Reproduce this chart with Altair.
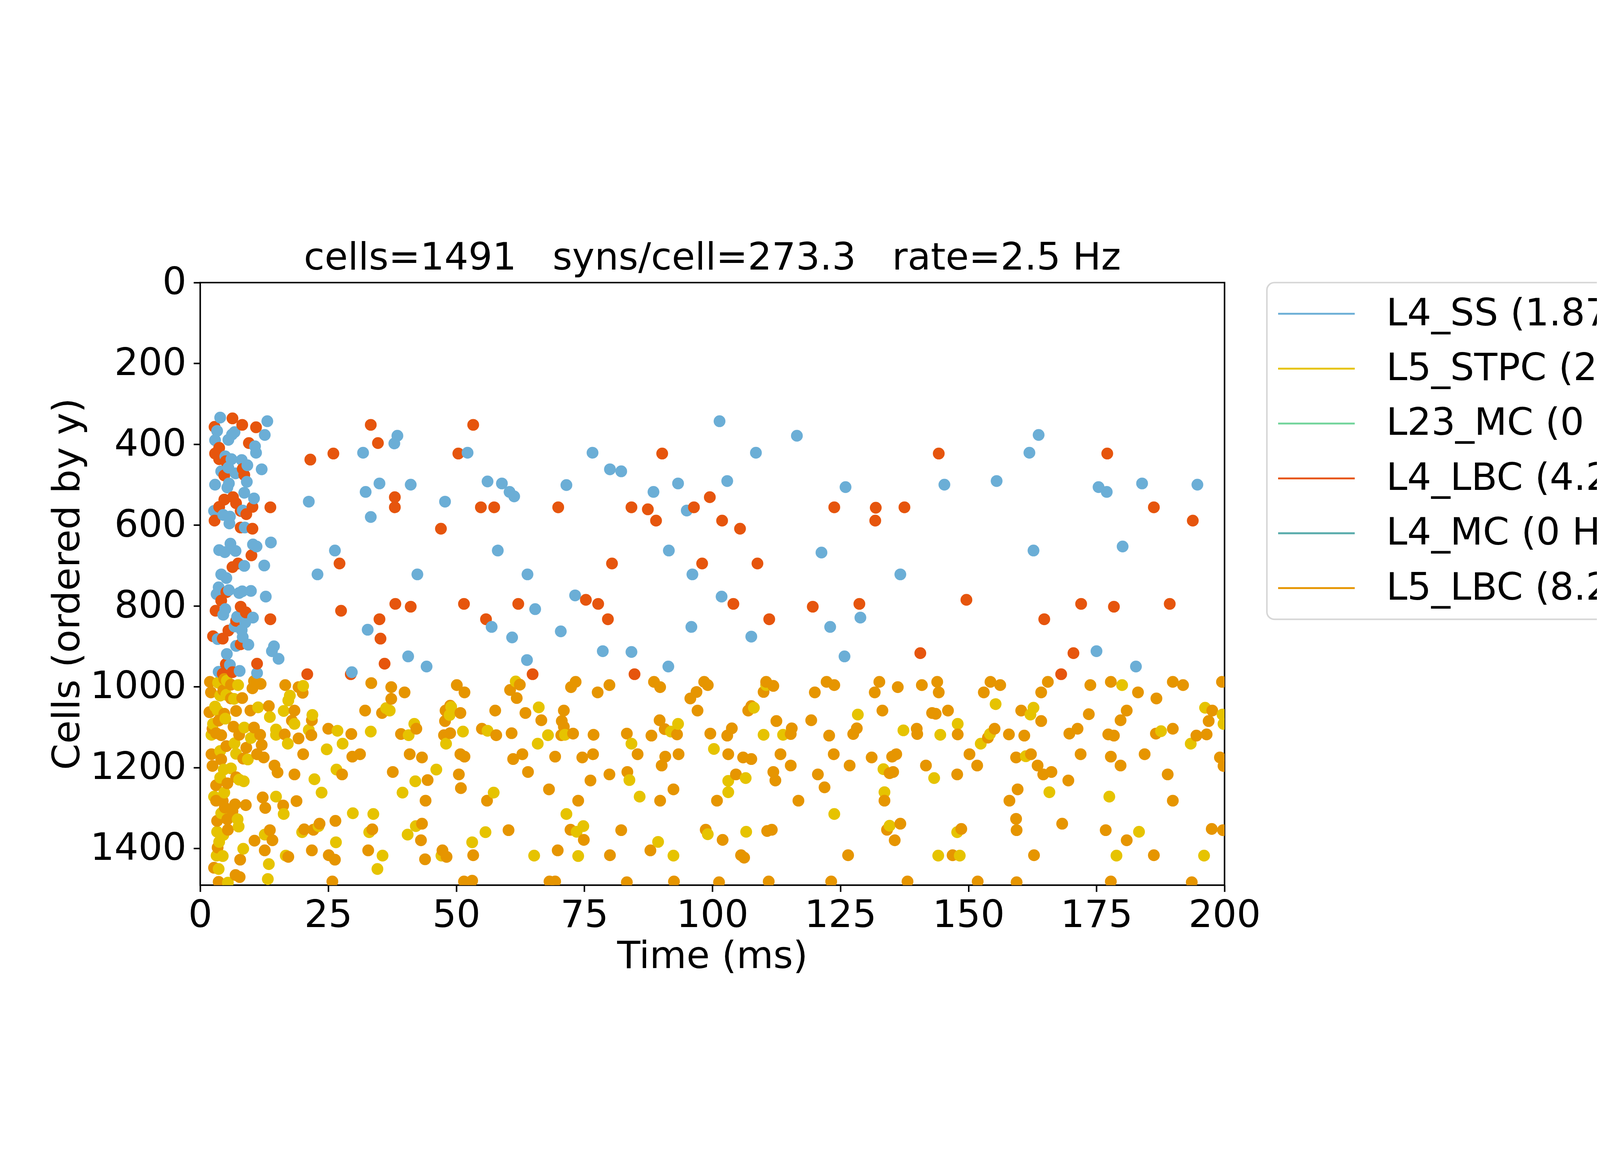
import pandas as pd
import altair as alt

# Legend entries (text as far as it is visible, the figure cuts it off)
populations = ["L4_SS (1.87", "L5_STPC (2.", "L23_MC (0 H",
               "L4_LBC (4.2", "L4_MC (0 Hz", "L5_LBC (8.2"]
colors = ["#6baed6", "#e6c300", "#72d49b", "#e6550d", "#58abab", "#e69500"]

n_cells = 1491
x_ticks = [0, 25, 50, 75, 100, 125, 150, 175, 200]
y_ticks = [0, 200, 400, 600, 800, 1000, 1200, 1400]
title_text = "cells=1491\u00a0\u00a0\u00a0syns/cell=273.3\u00a0\u00a0\u00a0rate=2.5 Hz"

# Spike times (ms) and cell index, per population
l4_ss_time = [3.9, 3.3, 6.7, 13.1, 12.6, 2.9, 5.5, 6.2, 10.7, 10.9, 4.9, 6.1, 8.1, 9.2, 12.0,
              4.1, 5.5, 6.9, 2.9, 5.6, 9.1, 8.6, 5.3, 10.5, 2.7, 4.5, 5.8, 8.3, 5.7, 8.7,
              3.7, 4.8, 5.9, 6.9, 10.3, 11.0, 13.8, 8.6, 12.5, 4.1, 5.1, 3.6, 5.6, 3.2, 7.6,
              8.2, 9.9, 12.8, 4.9, 4.5, 7.2, 10.3, 8.8, 6.7, 8.1, 3.4, 8.3, 9.4, 7.0, 14.4,
              14.0, 15.3, 5.2, 3.6, 5.8, 7.7, 11.1,
              29.6, 32.7, 40.6, 44.2, 22.9, 26.3, 42.4, 58.1, 63.9, 65.4, 56.9, 60.9, 63.8,
              21.2, 31.8, 32.3, 33.3, 35.0, 37.9, 38.5, 41.1, 47.8, 52.2, 56.1, 58.9, 60.4, 61.3,
              91.5, 96.1, 121.3, 73.2, 101.8, 70.4, 95.9, 107.6, 123.0, 128.9, 78.6, 84.2, 91.4,
              125.8, 101.4, 116.5, 76.6, 108.5, 80.0, 82.2, 71.5, 93.3, 102.9, 88.5, 126.0, 95.0,
              162.7, 180.1, 136.7, 175.0, 182.7, 163.7, 161.9, 145.3, 155.5, 175.4, 177.0, 183.9,
              194.7]
l4_ss_cell = [334, 367, 370, 343, 377, 390, 389, 376, 405, 421, 430, 437, 439, 452, 462,
              467, 458, 472, 500, 497, 493, 520, 507, 534, 565, 575, 579, 564, 596, 606,
              662, 667, 646, 664, 648, 653, 643, 701, 700, 722, 731, 754, 761, 771, 768,
              764, 763, 777, 808, 822, 827, 829, 841, 851, 860, 882, 877, 896, 899, 900,
              912, 931, 919, 963, 946, 961, 966,
              964, 859, 925, 950, 722, 663, 722, 663, 722, 808, 852, 878, 934,
              542, 421, 518, 580, 497, 398, 379, 500, 542, 421, 492, 497, 518, 529,
              663, 722, 668, 774, 777, 863, 852, 876, 852, 829, 912, 914, 950,
              925, 343, 379, 421, 421, 462, 467, 501, 497, 491, 518, 506, 564,
              663, 653, 722, 912, 950, 377, 421, 500, 491, 506, 518, 497,
              500]

l4_lbc_time = [6.3, 2.8, 8.2, 10.9, 9.5, 3.7, 2.9, 3.7, 5.0, 8.3, 8.6, 4.7, 4.7, 6.4, 7.0,
               10.2, 13.7, 3.7, 7.9, 9.0, 2.8, 7.9, 10.2, 10.0, 7.4, 6.3, 5.1, 4.1, 3.0, 7.9,
               8.9, 13.7, 7.0, 5.5, 2.5, 4.4, 7.9, 5.0, 4.4, 6.3, 11.1,
               20.9, 29.4, 27.2, 27.5, 35.0, 35.2, 36.0, 38.1, 41.1, 47.0, 51.5, 55.8, 62.1, 64.9,
               21.5, 26.0, 33.3, 34.7, 38.0, 38.0, 50.4, 53.3, 54.8, 57.4,
               105.4, 80.4, 98.0, 108.8, 75.3, 77.7, 79.6, 104.1, 111.1, 119.6, 128.7, 84.8,
               90.2, 69.9, 84.2, 87.4, 89.0, 96.4, 99.5, 101.9, 123.8, 131.9, 131.8,
               149.6, 172.0, 178.4, 189.3, 164.8, 140.6, 170.5, 168.1,
               144.2, 177.1, 137.5, 186.2, 193.8]
l4_lbc_cell = [336, 357, 352, 358, 397, 409, 423, 437, 442, 461, 476, 477, 537, 531, 546,
               555, 556, 555, 565, 573, 589, 606, 609, 675, 695, 704, 766, 787, 812, 802,
               816, 833, 837, 861, 875, 881, 895, 944, 968, 964, 943,
               969, 969, 695, 812, 833, 881, 943, 795, 802, 609, 795, 833, 795, 969,
               438, 423, 352, 397, 531, 556, 423, 352, 556, 556,
               609, 695, 695, 695, 785, 795, 833, 795, 833, 802, 795, 969,
               423, 556, 556, 561, 589, 556, 531, 589, 556, 557, 589,
               785, 795, 802, 795, 833, 917, 917, 969,
               423, 423, 556, 556, 589]

l5_stpc_time = [3.5, 5.2, 7.4, 3.9, 6.6, 5.1, 2.9, 3.4, 4.9, 11.3, 13.6, 16.3, 2.5, 8.6, 14.8,
                2.2, 9.9, 14.8, 6.7, 3.9, 7.0, 9.3, 4.6, 6.0, 3.9, 7.6, 8.5, 4.7, 2.7, 14.8,
                16.3, 4.1, 7.3, 7.5, 4.5, 3.3, 12.6, 3.7, 4.4, 3.2, 8.4, 13.4, 16.7, 3.6, 5.4,
                13.2,
                17.5, 17.2, 18.4, 17.1, 20.1, 21.9, 21.2, 24.7, 26.8, 27.8, 26.6, 22.3, 23.7,
                19.9, 23.1, 26.5, 29.8, 33.8, 33.0, 35.6, 34.6, 33.3, 36.3, 37.0, 40.7, 41.8,
                42.0, 39.5, 40.5, 42.1, 46.1, 49.0, 48.7, 48.0, 51.3, 56.1, 57.3, 55.7, 53.1,
                47.1, 61.6, 66.1, 65.9, 65.2,
                67.9, 71.2, 84.2, 91.9, 93.3, 100.3, 103.1, 103.1, 106.5, 108.1, 110.5, 110.0,
                113.8, 128.4, 83.8, 85.8, 71.5, 74.8, 73.5, 89.4, 99.1, 106.6, 123.8, 73.8, 92.4,
                180.0, 155.3, 162.7, 162.1, 147.9, 137.3, 144.5, 154.2, 152.4, 187.6, 193.4,
                196.2, 199.6, 199.8, 133.4, 143.3, 161.2, 133.6, 165.8, 177.5, 134.6, 147.8,
                183.3, 144.1, 148.3, 178.9, 196.0]
l5_stpc_cell = [990, 985, 996, 1022, 1030, 1020, 1049, 1059, 1079, 1051, 1075, 1060, 1092, 1101, 1106,
                1119, 1127, 1119, 1140, 1159, 1166, 1180, 1205, 1202, 1225, 1230, 1234, 1262, 1272, 1272,
                1315, 1313, 1328, 1346, 1367, 1359, 1366, 1384, 1419, 1418, 1401, 1439, 1418, 1451, 1485,
                1476,
                1022, 1034, 1092, 1141, 998, 1070, 1107, 1155, 1109, 1141, 1205, 1229, 1262,
                1360, 1345, 1385, 1313, 1315, 1360, 1418, 1451, 1111, 1053, 1059, 1120, 1092,
                1234, 1262, 1366, 1345, 1205, 1050, 1070, 1141, 1111, 1109, 1262, 1360, 1385,
                1418, 987, 1051, 1141, 1418,
                1120, 1119, 1141, 1111, 1092, 1154, 1233, 1261, 1226, 1052, 996, 1119,
                1119, 1069, 1231, 1272, 1315, 1345, 1359, 1384, 1365, 1359, 1315, 1419, 1418,
                996, 1043, 1052, 1069, 1092, 1108, 1119, 1117, 1141, 1110, 1141,
                1052, 1069, 1092, 1204, 1226, 1172, 1261, 1261, 1272, 1344, 1360,
                1359, 1418, 1418, 1418, 1418]

l5_lbc_time = [1.9, 4.7, 6.0, 10.2, 10.5, 11.8, 16.6, 2.1, 4.5, 6.0, 8.2, 1.8, 4.7, 7.0, 9.8,
               13.4, 3.6, 6.5, 10.5, 2.4, 3.1, 4.1, 7.6, 11.7, 16.5, 5.1, 9.0, 12.0, 2.2, 8.4,
               11.1, 12.4, 14.5, 15.1, 2.4, 4.1, 7.0, 3.1, 5.3, 3.1, 4.4, 6.8, 8.9, 4.8, 6.3,
               12.2, 12.7, 16.2, 3.3, 5.3, 5.4, 13.6, 14.1, 10.6, 12.6, 3.4, 7.8, 2.7, 6.9, 7.7,
               3.6,
               19.2, 20.0, 18.4, 17.9, 19.2, 20.1, 18.4, 18.8, 21.7, 21.8, 25.0, 29.5, 29.7, 31.2,
               27.7, 26.4, 20.3, 22.1, 23.3, 25.1, 26.3, 21.8, 17.2, 25.8, 32.8, 33.6, 33.4, 32.2,
               35.5, 37.3, 37.3, 39.9, 39.2, 40.9, 42.2, 43.3, 37.6, 44.4, 44.0, 43.3, 43.1, 43.9,
               47.3, 48.1, 50.1, 51.6, 47.9, 48.8, 47.8, 50.8, 47.6, 48.8, 50.8, 51.6, 50.5, 50.9,
               55.0, 57.8, 57.6, 56.0, 60.2, 53.3, 51.5, 53.1, 60.5, 62.4, 61.8, 63.5, 60.8, 66.6,
               61.1, 62.9, 64.0,
               73.3, 72.4, 77.6, 79.9, 88.6, 89.8, 98.4, 99.1, 96.9, 95.7, 97.1, 110.0, 110.5,
               111.9, 107.0, 107.6, 120.0, 122.3, 123.8, 131.7, 132.6,
               71.0, 70.6, 70.5, 71.0, 72.8, 76.8, 83.3, 88.1, 89.7, 90.7, 93.1, 99.6, 102.9,
               103.8, 112.5, 115.5, 115.3, 119.3, 122.8, 127.5, 128.2,
               69.3, 74.6, 76.7, 85.4, 90.8, 93.4, 90.1, 103.1, 106.0, 107.6, 113.3, 115.3, 123.7,
               126.8, 131.1,
               68.1, 76.2, 79.9, 83.4, 92.4, 104.6, 111.9, 112.3, 120.6, 121.9,
               73.8, 89.8, 100.9, 116.8,
               72.3, 74.9, 82.2, 98.7, 102.0, 110.7, 111.6,
               69.8, 80.0, 87.9, 105.6, 106.2, 126.5,
               68.2, 69.3, 83.3, 92.5, 101.3, 111.0, 123.2,
               136.2, 140.9, 143.9, 144.2, 153.0, 154.3, 156.2, 164.2, 165.5, 173.8, 177.8, 183.1,
               186.7, 189.9, 191.9, 199.5,
               133.2, 142.9, 143.6, 146.0, 139.9, 140.0, 147.9, 155.1, 153.8, 160.3, 164.2, 157.9,
               160.9, 169.7, 171.3, 173.5, 177.3, 178.4, 179.7, 180.9, 186.6, 189.9, 194.5, 196.5,
               196.9, 197.6,
               135.1, 135.9, 141.7, 150.2, 151.7, 159.3, 162.2, 163.5, 164.6, 166.2, 171.9, 177.8,
               179.7, 184.4, 199.1, 199.8,
               134.6, 135.3, 147.8, 169.5, 188.9,
               133.6, 158.0, 159.6, 189.9,
               136.7, 134.1, 135.6, 148.6, 159.3, 159.4, 168.3, 176.8, 180.9, 197.5, 199.7,
               146.9, 162.8, 186.2,
               138.1, 151.8, 159.4, 177.8, 193.6]
l5_lbc_cell = [988, 981, 995, 1004, 986, 993, 996, 1014, 1009, 1029, 1028, 1063, 1067, 1060, 1059,
               1048, 1084, 1099, 1101, 1104, 1115, 1120, 1119, 1119, 1118, 1147, 1151, 1144, 1167, 1178,
               1167, 1175, 1195, 1212, 1196, 1180, 1224, 1244, 1239, 1282, 1283, 1291, 1293, 1299, 1308,
               1274, 1300, 1294, 1332, 1328, 1354, 1355, 1380, 1381, 1405, 1398, 1428, 1448, 1466, 1471,
               1483,
               1001, 1015, 1059, 1084, 1128, 1167, 1217, 1283, 1120, 1083, 1104, 1117, 1173, 1167,
               1217, 1332, 1353, 1354, 1339, 1417, 1428, 1405, 1421, 1482, 1405, 1353, 991, 1059,
               1065, 1001, 1030, 1014, 1117, 1167, 1104, 1175, 1211, 1231, 1282, 1339, 1380, 1427,
               1405, 1421, 996, 1014, 1059, 1047, 1085, 1065, 1120, 1115, 1167, 1173, 1217, 1251,
               1104, 1120, 1059, 1282, 1355, 1417, 1482, 1480, 1008, 995, 1028, 1065, 1115, 1083,
               1179, 1167, 1211,
               988, 1001, 1014, 996, 988, 1001, 988, 996, 1013, 1029, 1059, 1013, 988,
               998, 1059, 1048, 1014, 988, 996, 1014, 988,
               1059, 1085, 1120, 1099, 1116, 1119, 1116, 1121, 1083, 1105, 1118, 1116, 1121,
               1103, 1085, 1103, 1117, 1083, 1121, 1117, 1103,
               1173, 1175, 1167, 1167, 1173, 1167, 1195, 1167, 1175, 1179, 1167, 1195, 1167,
               1195, 1175,
               1254, 1232, 1217, 1211, 1254, 1217, 1211, 1232, 1217, 1249,
               1282, 1282, 1282, 1282,
               1354, 1379, 1355, 1354, 1379, 1357, 1354,
               1405, 1417, 1405, 1417, 1423, 1417,
               1482, 1482, 1484, 1482, 1484, 1482, 1482,
               1001, 996, 988, 1014, 1014, 988, 996, 1014, 988, 996, 988, 1014,
               1029, 988, 996, 988,
               1059, 1065, 1067, 1059, 1104, 1117, 1118, 1104, 1126, 1059, 1085, 1118,
               1121, 1116, 1104, 1068, 1118, 1121, 1083, 1059, 1116, 1104, 1121, 1118,
               1085, 1059,
               1173, 1167, 1195, 1167, 1195, 1175, 1167, 1195, 1217, 1211, 1167, 1173,
               1195, 1167, 1175, 1196,
               1214, 1211, 1217, 1232, 1217,
               1282, 1282, 1254, 1282,
               1339, 1354, 1380, 1352, 1327, 1355, 1339, 1355, 1380, 1352, 1355,
               1417, 1417, 1417,
               1482, 1482, 1484, 1482, 1484]


def population_frame(label, times, cells):
    return pd.DataFrame({"time": times, "cell": cells, "population": label})


# L23_MC and L4_MC did not fire (0 Hz): they only show up in the legend
spikes = pd.concat([
    population_frame(populations[0], l4_ss_time, l4_ss_cell),
    population_frame(populations[1], l5_stpc_time, l5_stpc_cell),
    population_frame(populations[3], l4_lbc_time, l4_lbc_cell),
    population_frame(populations[5], l5_lbc_time, l5_lbc_cell),
], ignore_index=True)
# spikes are drawn in time order, so overlaps mix the colours
spikes = spikes.sort_values("time", kind="stable").reset_index(drop=True)

font = "DejaVu Sans"
line_w = 5.7

# legend key: a thin filled bar drawn as a custom symbol path
legend = alt.Legend(
    title=None, orient="none", legendX=4005, legendY=0,
    symbolType="M-1,-0.0675H4.55V0.0675H-1Z", symbolSize=10750, symbolStrokeWidth=0,
    symbolOffset=-23, rowPadding=64, labelOffset=283,
    labelFont=font, labelFontSize=142, labelColor="black", labelLimit=3000,
    padding=46, cornerRadius=28, strokeColor="#d6d6d6", fillColor="white",
)

chart = alt.Chart(spikes).mark_circle(size=1963, opacity=1, clip=True).encode(
    x=alt.X("time:Q", title="Time (ms)",
            scale=alt.Scale(domain=[0, 200], nice=False, zero=False),
            axis=alt.Axis(values=x_ticks, labelFlush=False, labelPadding=20,
                          titlePadding=14)),
    y=alt.Y("cell:Q", title="Cells (ordered by y)",
            scale=alt.Scale(domain=[0, n_cells], reverse=True, nice=False, zero=False),
            axis=alt.Axis(values=y_ticks, format="d", labelFlush=False, labelPadding=27,
                          titleX=-455, titleY=1131, titleBaseline="alphabetic")),
    color=alt.Color("population:N",
                    scale=alt.Scale(domain=populations, range=colors),
                    legend=legend),
).properties(
    width=3846, height=2262,
    autosize=alt.AutoSizeParams(type="none"),
    padding={"left": 740, "top": 353, "right": 1398, "bottom": 369},
    title=alt.TitleParams(title_text, font=font, fontSize=142, fontWeight="normal",
                          color="black", anchor="middle", frame="group", offset=42, dy=94),
).configure_view(
    stroke="black", strokeWidth=line_w
).configure_axis(
    domain=False, grid=False, ticks=True, tickSize=25, tickWidth=line_w,
    tickColor="black", labelFont=font, labelFontSize=142, labelColor="black",
    labelLimit=2000, titleFont=font, titleFontSize=142, titleFontWeight="normal",
    titleColor="black",
).configure_legend(
    strokeWidth=line_w
)

chart.save("out.html", embed_options={"renderer": "svg", "actions": False})
